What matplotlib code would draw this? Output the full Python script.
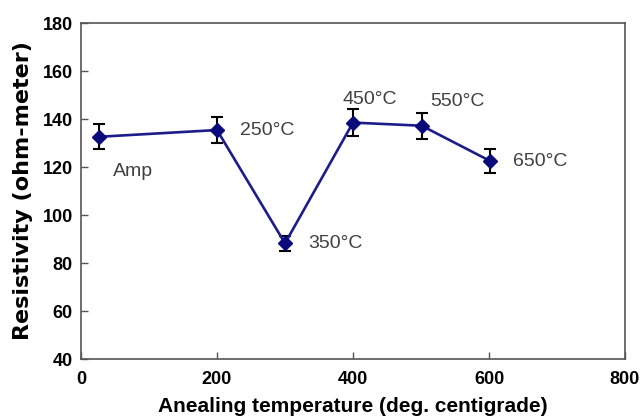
import matplotlib.pyplot as plt

# annealing temperature (x position on axis) and resistivity
temps = [27, 200, 300, 400, 501, 601]
resistivity = [132.6, 135.4, 88.2, 138.5, 137.2, 122.6]
errors = [5.2, 5.3, 3.2, 5.5, 5.5, 4.9]
labels = ['Amp', '250°C', '350°C', '450°C', '550°C', '650°C']
label_pos = [(47, 118), (234, 135.2), (334, 88), (384, 148), (513, 147.5), (635, 122.5)]

fam = ['Liberation Sans', 'DejaVu Sans']

fig = plt.figure(figsize=(6.41, 4.18), dpi=100)
ax = fig.add_axes([81 / 641, 1 - 359 / 418, 544 / 641, 336 / 418])

ax.errorbar(temps, resistivity, yerr=errors, color='#1c1c8a', lw=1.9,
            marker='D', ms=7.5, mfc='#0a0a7a', mec='#0a0a7a',
            ecolor='black', elinewidth=1.5, capsize=4.5, capthick=1.5)

for lab, (lx, ly) in zip(labels, label_pos):
    ax.text(lx, ly, lab, fontsize=14, color='#404040', family=fam,
            va='center', ha='left')

ax.set_xlim(0, 800)
ax.set_ylim(40, 180)
ax.set_xticks([0, 200, 400, 600, 800])
ax.set_yticks(range(40, 181, 20))
ax.tick_params(direction='in', length=5, width=1, color='#555555')
ax.tick_params(axis='x', pad=9)
ax.tick_params(axis='y', pad=6)
for t in ax.get_xticklabels() + ax.get_yticklabels():
    t.set_family(fam)
    t.set_fontweight('bold')
    t.set_fontsize(13)
for s in ax.spines.values():
    s.set_linewidth(1.2)
    s.set_color('#555555')

ax.set_xlabel('Anealing temperature (deg. centigrade)', fontsize=15,
              fontweight='bold', family=fam, labelpad=6)
ax.set_ylabel('Resistivity (ohm-meter)', fontsize=16,
              fontweight='bold', family=['DejaVu Sans'], labelpad=7)

fig.savefig('out.png', dpi=100)
